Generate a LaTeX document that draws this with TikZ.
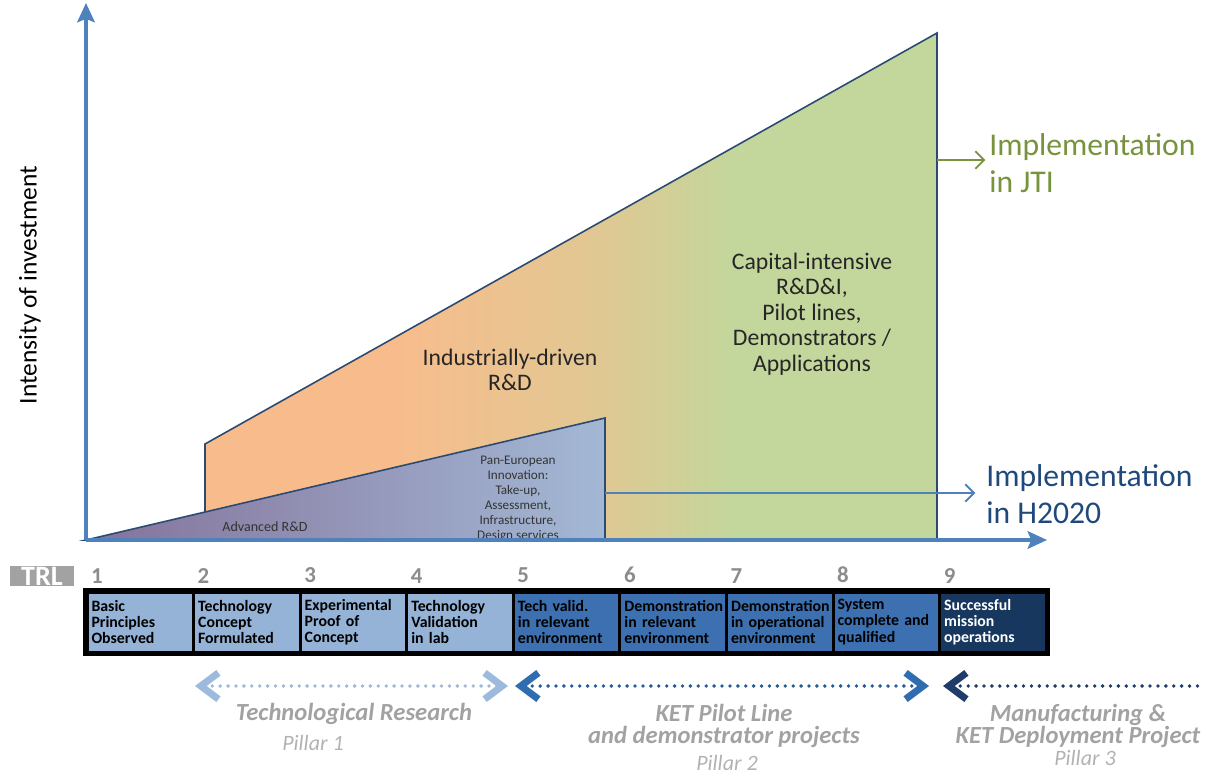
\documentclass[tikz,border=0pt]{standalone}
\usepackage{fontspec}
\setmainfont{Carlito}
\usetikzlibrary{arrows.meta}
\definecolor{axisblue}{HTML}{4F81BD}
\definecolor{edgenavy}{HTML}{2B4A72}
\definecolor{peach}{HTML}{F8BC8C}
\definecolor{sage}{HTML}{C3D69B}
\colorlet{midtone}{peach!55!sage}
\definecolor{plum}{HTML}{84729A}
\definecolor{steel}{HTML}{A3B8D5}
\definecolor{jtigreen}{HTML}{77933C}
\definecolor{hnavy}{HTML}{1F497D}
\definecolor{trlA}{HTML}{95B3D7}
\definecolor{trlB}{HTML}{3D70B0}
\definecolor{trlC}{HTML}{17375E}
\definecolor{pilA}{HTML}{9DB9DB}
\definecolor{pilB}{HTML}{2F6CB0}
\definecolor{pilC}{HTML}{1F3D68}
\definecolor{capgrey}{HTML}{A2A2A2}
\pgfdeclarehorizontalshading{investshade}{100bp}{color(0bp)=(peach); color(38bp)=(peach); color(52bp)=(midtone); color(61bp)=(sage); color(100bp)=(sage)}
\tikzset{Chev/.tip={Straight Barb[length=10pt,width=15pt,line width=4pt]}}
\tikzstyle{axis} = [line width=2pt, draw=axisblue, -{Stealth[length=11pt,width=10pt,inset=2pt]}]
\tikzstyle{shapeline} = [draw=edgenavy, line width=0.9pt]
\tikzstyle{chart} = [font=\fontsize{13.5}{14.5}\selectfont, align=center, text=black!85]
\tikzstyle{smalltext} = [font=\fontsize{7.5}{8.5}\selectfont, align=center, text=black!80]
\tikzstyle{impl} = [font=\fontsize{18}{21}\selectfont, align=left, anchor=west, inner sep=0pt]
\tikzstyle{outarrow} = [line width=1.1pt, -{Straight Barb[length=5pt,width=10pt]}]
\tikzstyle{cell} = [rectangle, draw=black, line width=1.7pt, minimum width=2.132cm, minimum height=1.2cm, text width=1.95cm, align=left, font=\bfseries\fontsize{9}{9.2}\selectfont, inner sep=0pt]
\tikzstyle{cellA} = [cell, fill=trlA]
\tikzstyle{cellB} = [cell, fill=trlB]
\tikzstyle{cellC} = [cell, fill=trlC, text=white]
\tikzstyle{num} = [font=\bfseries\fontsize{13}{13}\selectfont, text=black!45, anchor=south west, inner sep=0pt]
\tikzstyle{pillar} = [line width=2.2pt, dash pattern=on 0pt off 4.5pt, line cap=round]
\tikzstyle{pilltext} = [font=\bfseries\itshape\fontsize{14}{13}\selectfont, text=capgrey, align=center]
\tikzstyle{pillno} = [font=\itshape\fontsize{12.5}{12}\selectfont, text=black!30]

\begin{document}
\begin{tikzpicture}[x=0.02cm, y=-0.02cm, node distance=2.132cm]
\useasboundingbox (0,0) rectangle (1205,774);

% chart corners
\coordinate (O) at (86,540);
\coordinate (ytop) at (86,3);
\coordinate (xend) at (1047,540);
\coordinate (bA) at (205,540);
\coordinate (bB) at (205,444);
\coordinate (bC) at (937,33);
\coordinate (bD) at (937,540);
\coordinate (tB) at (605,418);
\coordinate (tC) at (605,540);

\shadedraw [shading=investshade, shapeline] (bA) -- (bB) -- (bC) -- (bD) -- cycle;
\shadedraw [left color=plum, right color=steel, shapeline] (O) -- (tB) -- (tC) -- cycle;

\node (indus) [chart] at (510,370) {Industrially-driven\\R\&D};
\node (capit) [chart] at (812,314) {Capital-intensive\\R\&D\&I,\\Pilot lines,\\Demonstrators /\\Applications};
\node (adv) [smalltext, font=\fontsize{8}{9}\selectfont] at (265,527) {Advanced R\&D};
\node (pan) [smalltext] at (518,499) {Pan-European\\Innovation:\\Take-up,\\Assessment,\\Infrastructure,\\Design services};

% outputs
\node (jti) [impl, text=jtigreen] at (989,163) {Implementation\\in JTI};
\node (h2020) [impl, text=hnavy] at (986,494) {Implementation\\in H2020};
\coordinate (g0) at (937,160);
\coordinate (h0) at (605,493);
\draw [outarrow, jtigreen] (g0) -- ([xshift=-2pt]g0 -| jti.west);
\draw [outarrow, axisblue] (h0) -- ([xshift=-6pt]h0 -| h2020.west);

\draw [axis] (O) -- (ytop);
\draw [axis] (O) -- (xend);
\node (ylab) [rotate=90, font=\fontsize{14.5}{15}\selectfont] at (30,285) {Intensity of investment};

% TRL scale
\node (trl) [fill=capgrey, text=white, font=\bfseries\fontsize{16}{16}\selectfont, minimum width=1.3cm, minimum height=0.4cm, inner sep=0pt] at (42,576) {TRL};

\node (c1) [cellA] at (140.3,622) {Basic\\Principles\\Observed};
\node (c2) [cellA, right of=c1] {Technology\\Concept\\Formulated};
\node (c3) [cellA, right of=c2] {Experimental\\Proof of\\Concept};
\node (c4) [cellA, right of=c3] {Technology\\Validation\\in lab};
\node (c5) [cellB, right of=c4] {Tech valid.\\in relevant\\environment};
\node (c6) [cellB, right of=c5] {Demonstration\\in relevant\\environment};
\node (c7) [cellB, right of=c6] {Demonstration\\in operational\\environment};
\node (c8) [cellB, right of=c7] {System\\complete and\\qualified};
\node (c9) [cellC, right of=c8] {Successful\\mission\\operations};
\draw [line width=2.4pt] (c1.north west) rectangle (c9.south east);

\node (n1) [num] at ([xshift=3pt,yshift=4pt]c1.north west) {1};
\node (n2) [num] at ([xshift=3pt,yshift=4pt]c2.north west) {2};
\node (n3) [num] at ([xshift=3pt,yshift=4pt]c3.north west) {3};
\node (n4) [num] at ([xshift=3pt,yshift=4pt]c4.north west) {4};
\node (n5) [num] at ([xshift=3pt,yshift=4pt]c5.north west) {5};
\node (n6) [num] at ([xshift=3pt,yshift=4pt]c6.north west) {6};
\node (n7) [num] at ([xshift=3pt,yshift=4pt]c7.north west) {7};
\node (n8) [num] at ([xshift=3pt,yshift=4pt]c8.north west) {8};
\node (n9) [num] at ([xshift=3pt,yshift=4pt]c9.north west) {9};

% pillars
\coordinate (p1s) at (195,686);
\coordinate (p1e) at (508,686);
\coordinate (p2s) at (515,686);
\coordinate (p2e) at (929,686);
\coordinate (p3s) at (943,686);
\coordinate (p3e) at (1198,686);
\draw [pillar, pilA, {Chev}-{Chev}] (p1s) -- (p1e);
\draw [pillar, pilB!85!black, {Chev[color=pilB]}-{Chev[color=pilB]}] (p2s) -- (p2e);
\draw [pillar, pilC, {Chev}-] (p3s) -- (p3e);

\node (t1) [pilltext] at (354,714) {Technological Research};
\node (t1n) [pillno] at (313,743) {Pillar 1};
\node (t2) [pilltext] at (724,726) {KET Pilot Line\\and demonstrator projects};
\node (t2n) [pillno] at (727,763) {Pillar 2};
\node (t3) [pilltext] at (1078,726) {Manufacturing \&\\KET Deployment Project};
\node (t3n) [pillno] at (1085,758) {Pillar 3};

\end{tikzpicture}
\end{document}
